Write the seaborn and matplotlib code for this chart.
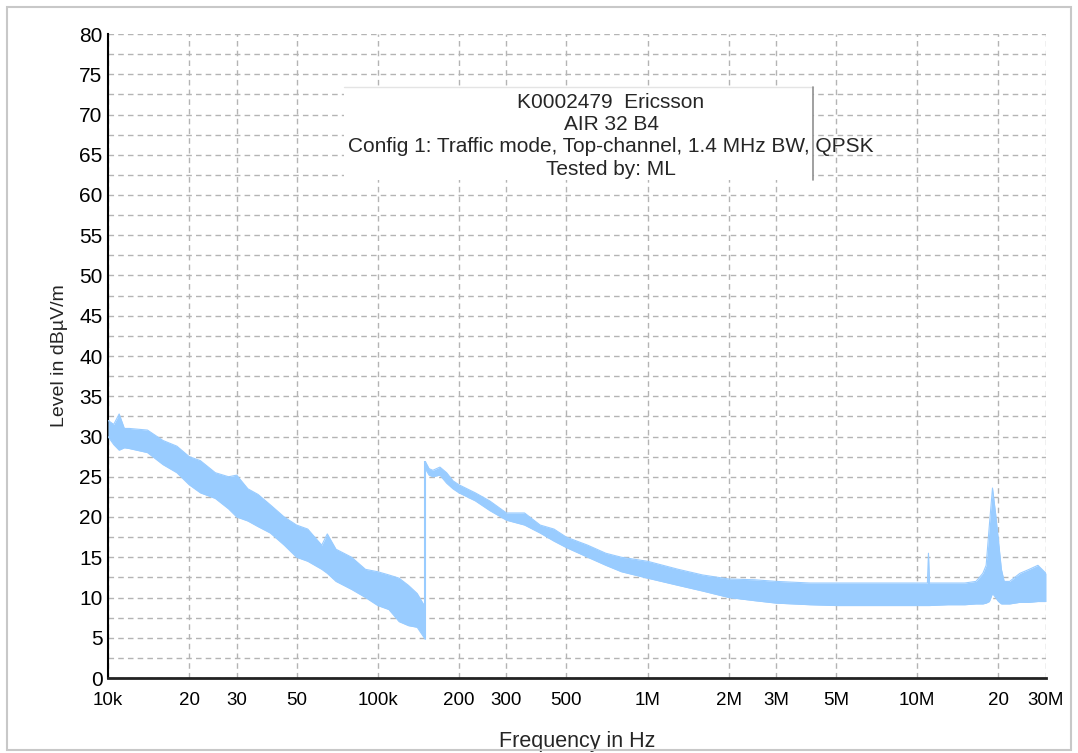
import numpy as np
import matplotlib.pyplot as plt
import seaborn as sns
import pandas as pd
from matplotlib.patches import Rectangle
from matplotlib.lines import Line2D

freq_lf = [10e3, 10.5e3, 11e3, 11.5e3, 12e3, 14e3, 16e3, 18e3, 20e3, 22e3, 25e3, 28e3,
           30e3, 33e3, 36e3, 40e3, 45e3, 50e3, 55e3, 62e3, 65e3, 70e3, 80e3, 90e3,
           100e3, 110e3, 120e3, 130e3, 140e3, 150e3]
upper_lf = [32.0, 31.5, 32.8, 31.0, 31.0, 30.8, 29.5, 28.8, 27.5, 27.0, 25.5, 25.0,
            25.2, 23.5, 22.8, 21.5, 20.0, 19.0, 18.5, 16.5, 17.9, 16.0, 15.0, 13.5,
            13.2, 12.8, 12.4, 11.5, 10.5, 8.8]
lower_lf = [30.0, 29.0, 28.3, 28.6, 28.5, 28.0, 26.5, 25.5, 24.0, 23.0, 22.3, 21.0,
            20.0, 19.5, 18.8, 18.0, 16.5, 15.0, 14.5, 13.5, 13.0, 12.0, 11.0, 10.0,
            9.0, 8.5, 7.0, 6.5, 6.3, 4.8]

freq_hf = [150e3, 155e3, 160e3, 170e3, 180e3, 190e3, 200e3, 230e3, 260e3, 300e3,
           350e3, 400e3, 450e3, 500e3, 600e3, 700e3, 800e3, 1e6, 1.3e6, 1.6e6,
           2e6, 2.5e6, 3e6, 4e6, 5e6, 6e6, 8e6, 10e6, 10.9e6, 11e6, 11.1e6, 13e6,
           15e6, 16.5e6, 17.5e6, 18e6, 18.5e6, 19e6, 19.5e6, 20e6, 20.5e6, 21e6,
           22e6, 24e6, 26e6, 28e6, 30e6]
upper_hf = [26.9, 26.0, 25.8, 26.2, 25.5, 24.5, 24.0, 23.0, 22.0, 20.5,
            20.5, 19.0, 18.5, 17.5, 16.5, 15.5, 15.0, 14.5, 13.5, 12.8,
            12.3, 12.2, 12.0, 11.8, 11.8, 11.8, 11.8, 11.8, 11.8, 15.5, 11.8, 11.8,
            11.8, 12.0, 13.0, 14.0, 19.0, 23.6, 20.5, 17.0, 13.5, 12.0,
            12.0, 13.0, 13.5, 14.0, 13.0]
lower_hf = [26.0, 25.2, 25.0, 25.2, 24.2, 23.5, 23.0, 22.0, 20.8, 19.6,
            19.0, 18.0, 17.0, 16.2, 15.0, 14.0, 13.2, 12.4, 11.5, 10.8,
            10.0, 9.6, 9.3, 9.1, 9.0, 9.0, 9.0, 9.0, 9.0, 9.0, 9.0, 9.1,
            9.1, 9.2, 9.2, 9.3, 9.5, 10.5, 10.0, 9.5, 9.2, 9.2,
            9.2, 9.4, 9.4, 9.5, 9.5]

xticks = [10e3, 20e3, 30e3, 50e3, 100e3, 200e3, 300e3, 500e3, 1e6, 2e6, 3e6, 5e6, 10e6, 20e6, 30e6]
xlabels = ["10k", "20", "30", "50", "100k", "200", "300", "500", "1M", "2M", "3M", "5M", "10M", "20", "30M"]

title_lines = ["K0002479  Ericsson", "AIR 32 B4",
               "Config 1: Traffic mode, Top-channel, 1.4 MHz BW, QPSK", "Tested by: ML"]

trace = "#99ccff"

sns.set_style("white")
plt.rcParams["font.family"] = ["Liberation Sans", "DejaVu Sans"]

fig = plt.figure(figsize=(10.78, 7.53), dpi=100)
ax = fig.add_axes([108 / 1078, 1 - 678 / 753, 938 / 1078, 644 / 753])

# figure frame
fig.patches.append(Rectangle((7 / 1078, 3 / 753), 1064 / 1078, 743 / 753, transform=fig.transFigure,
                             fill=False, edgecolor="#c8c8c8", linewidth=1.5))

lf = pd.DataFrame({"f": freq_lf, "lo": lower_lf, "hi": upper_lf})
hf = pd.DataFrame({"f": freq_hf, "lo": lower_hf, "hi": upper_hf})
for d in [lf, hf]:
    ax.fill_between(d.f, d.lo, d.hi, color=trace, linewidth=0, zorder=3)
    sns.lineplot(data=d, x="f", y="hi", color=trace, linewidth=0.8, ax=ax, zorder=3)
    sns.lineplot(data=d, x="f", y="lo", color=trace, linewidth=0.8, ax=ax, zorder=3)
ax.vlines(freq_hf[0], lower_lf[-1], upper_hf[0], color=trace, linewidth=1.5, zorder=3)

ax.set_xscale("log")
ax.set_xlim(10e3, 30e6)
ax.set_ylim(0, 80)
ax.set_xticks(xticks)
ax.set_xticklabels(xlabels)
ax.xaxis.set_minor_locator(plt.NullLocator())
ax.set_yticks(np.arange(0, 81, 5))
ax.set_yticks(np.arange(2.5, 80, 5), minor=True)

ax.grid(True, which="both", axis="y", color="#b4b4b4", linestyle=(0, (4, 3)), linewidth=1)
ax.grid(True, which="major", axis="x", color="#b4b4b4", linestyle=(0, (4, 3)), linewidth=1)
ax.set_axisbelow(True)

for s in ["top", "right"]:
    ax.spines[s].set_visible(False)
ax.spines["left"].set_color("black")
ax.spines["left"].set_linewidth(1.5)
ax.spines["bottom"].set_color("#222222")
ax.spines["bottom"].set_linewidth(2)
ax.tick_params(axis="both", which="both", direction="inout", length=8, width=1.3, colors="black")
ax.tick_params(axis="y", labelsize=15, pad=0)
ax.tick_params(axis="x", labelsize=13.5, pad=6)

ax.set_xlabel("Frequency in Hz", fontsize=15.5, labelpad=16)
ax.set_ylabel("Level in dBµV/m", fontsize=14, labelpad=8)

# title box
fig.patches.append(Rectangle((344 / 1078, 1 - 180 / 753), 469 / 1078, 93 / 753, transform=fig.transFigure,
                             facecolor="white", edgecolor="none", zorder=5))
fig.lines.append(Line2D([344 / 1078, 813 / 1078], [1 - 87 / 753, 1 - 87 / 753], transform=fig.transFigure,
                        color="#e4e4e4", linewidth=1, zorder=6))
fig.lines.append(Line2D([813 / 1078, 813 / 1078], [1 - 87 / 753, 1 - 180 / 753], transform=fig.transFigure,
                        color="#909090", linewidth=1.2, zorder=6))
for i, line in enumerate(title_lines):
    fig.text(611 / 1078, 1 - (102 + 22.5 * i) / 753, line, ha="center", va="center", fontsize=15, zorder=7)

plt.savefig("out.png", dpi=100)
